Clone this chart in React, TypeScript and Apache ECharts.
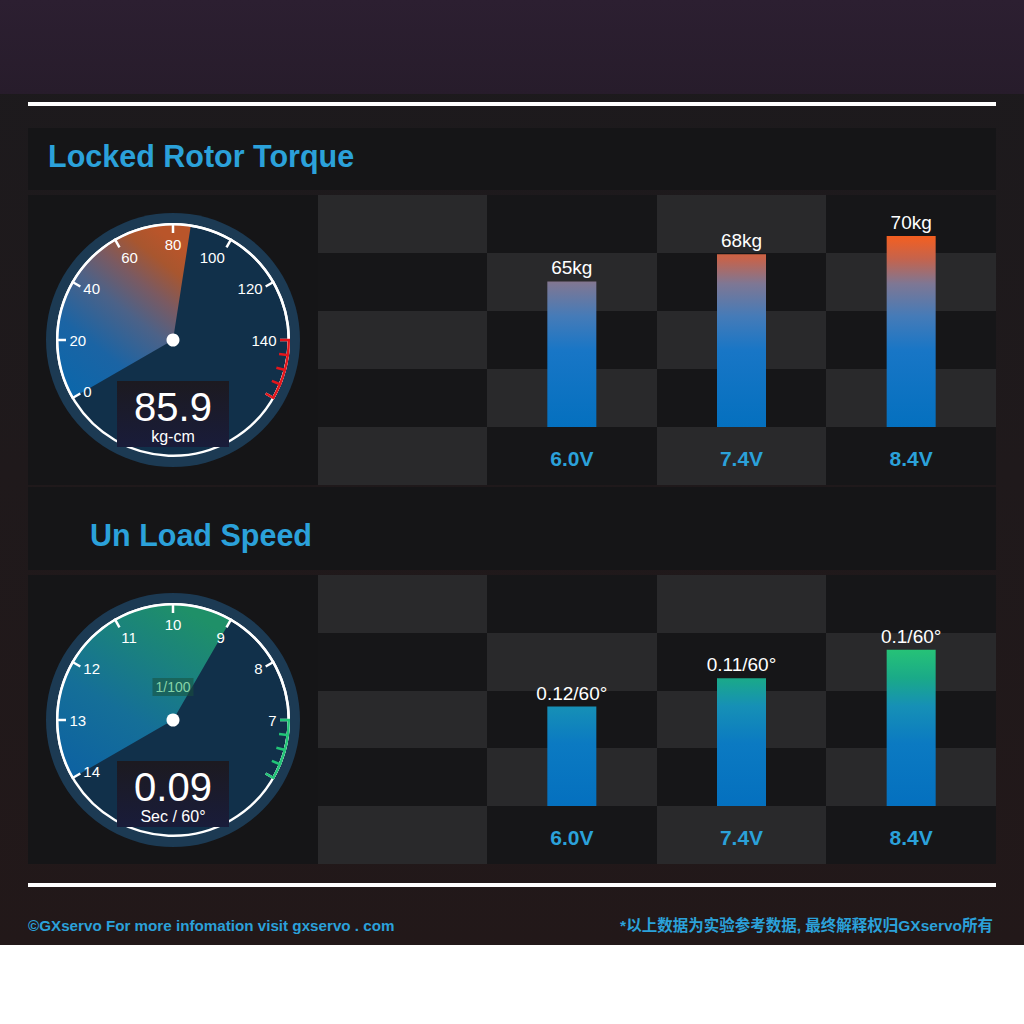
import React, { useEffect, useRef } from 'react';
import * as echarts from 'echarts';

const FONT = '"Liberation Sans", Arial, sans-serif';
const FONT_CJK = '"Liberation Sans", "Noto Sans CJK SC", sans-serif';

// ---------- data ----------
const voltages = ['6.0V', '7.4V', '8.4V'];
const torqueKg = [65, 68, 70];
const speedSecPer60 = [0.12, 0.11, 0.1];
const sectionTitles = ['Locked Rotor Torque', 'Un Load Speed'];

const torqueDialLabels = ['0', '20', '40', '60', '80', '100', '120', '140', ''];
const torqueDialRange = [0, 160];
const torqueDialZone = [140, 160];
const torqueReading = 85.9;
const torqueUnit = 'kg-cm';

const speedDialLabels = ['14', '13', '12', '11', '10', '9', '8', '7', ''];
const speedDialRange = [0.14, 0.06];
const speedDialZone = [0.07, 0.06];
const speedReading = 0.09;
const speedUnit = 'Sec / 60°';
const speedDialNote = '1/100';

const footerLeft = '©GXservo For more infomation visit gxservo . com';
const footerRight = '*以上数据为实验参考数据, 最终解释权归GXservo所有';

// ---------- layout / style ----------
const X0 = 28;
const X1 = 996;
const COLS = [318, 487, 657, 826, 996];
const SECTIONS = [
  { titleY: 128, titleH: 62, textX: 48, textY: 156, rows: [195, 253, 311, 369, 427, 485], cy: 340, plotTop: 196, plotBottom: 427 },
  { titleY: 487, titleH: 83, textX: 90, textY: 535, rows: [575, 633, 691, 748, 806, 864], cy: 720, plotTop: 576, plotBottom: 806 },
];
const BLUE = '#2ba1da';

function lg(x0: number, y0: number, x1: number, y1: number, stops: [number, string][], global = false) {
  return new echarts.graphic.LinearGradient(
    x0, y0, x1, y1,
    stops.map(([offset, color]) => ({ offset, color })),
    global
  );
}

function dialSeries(
  cy: number,
  range: number[],
  labels: string[],
  zone: number[],
  zoneColor: string,
  reading: number,
  unit: string,
  note: string | null,
  sectorStops: [number, string][]
) {
  const [min, max] = range;
  const n = labels.length - 1;
  const angleOf = (v: number) => 210 - ((v - min) / (max - min)) * 240;
  const center = [173, cy];
  const base = {
    type: 'gauge',
    center,
    startAngle: 210,
    endAngle: -30,
    min,
    max,
    splitNumber: n,
    pointer: { show: false },
    axisTick: { show: false },
  };
  return [
    {
      ...base,
      z: 2,
      radius: 115,
      progress: { show: true, overlap: true, width: 115, roundCap: false, itemStyle: { color: lg(0.1, 1, 0.7, 0, sectorStops) } },
      axisLine: { show: false },
      splitLine: { show: false },
      axisLabel: { show: false },
      anchor: { show: false },
      title: { show: true, offsetCenter: [0, 96], color: '#ffffff', fontSize: 16, fontFamily: FONT },
      detail: {
        show: true,
        offsetCenter: [0, 67],
        formatter: (v: number) => String(v),
        color: '#ffffff',
        fontSize: 40,
        fontWeight: 'normal',
        fontFamily: FONT,
      },
      data: [{ value: reading, name: unit }],
    },
    {
      ...base,
      z: 4,
      radius: 117,
      axisLine: { show: true, lineStyle: { width: 2.5, color: [[1, '#ffffff']] } },
      splitLine: { show: true, length: 10, distance: -2.5, lineStyle: { color: '#ffffff', width: 2.5 } },
      axisLabel: {
        show: true,
        distance: 6,
        color: '#ffffff',
        fontSize: 15,
        fontFamily: FONT,
        formatter: (v: number) => labels[Math.round(((v - min) / (max - min)) * n)] ?? '',
      },
      anchor: { show: true, showAbove: true, size: 13, itemStyle: { color: '#ffffff', borderWidth: 0 } },
      progress: { show: false },
      detail: { show: false },
      title: note
        ? {
            show: true,
            offsetCenter: [0, -33],
            color: '#86d3a8',
            fontSize: 14,
            fontFamily: FONT,
            backgroundColor: 'rgba(25,80,60,0.55)',
            padding: [2, 3],
          }
        : { show: false },
      data: [{ value: min, name: note || '' }],
    },
    {
      ...base,
      z: 5,
      radius: 117,
      startAngle: angleOf(zone[0]),
      endAngle: angleOf(zone[1]),
      min: zone[0],
      max: zone[1],
      splitNumber: 4,
      axisLine: { show: true, lineStyle: { width: 2.5, color: [[1, zoneColor]] } },
      splitLine: { show: true, length: 10, distance: -2.5, lineStyle: { color: zoneColor, width: 2.5 } },
      axisLabel: { show: false },
      anchor: { show: false },
      progress: { show: false },
      detail: { show: false },
      title: { show: false },
      data: [{ value: zone[0] }],
    },
  ];
}

function barSeries(
  idx: number,
  values: number[],
  baseValue: number,
  peakValue: number,
  stops: [number, string][],
  fmt: (v: number) => string
) {
  return {
    type: 'custom',
    xAxisIndex: idx,
    yAxisIndex: idx,
    z: 3,
    data: values.map((v, i) => [i, v]),
    encode: { x: 0, y: 1 },
    renderItem: (params: any, api: any) => {
      const i = api.value(0);
      const v = api.value(1);
      const top = api.coord([i, v]);
      const bottom = api.coord([i, baseValue]);
      const gTop = api.coord([i, peakValue])[1];
      const w = 49;
      return {
        type: 'group',
        children: [
          {
            type: 'rect',
            shape: { x: top[0] - w / 2, y: top[1], width: w, height: bottom[1] - top[1] },
            style: { fill: lg(0, gTop, 0, bottom[1], stops, true) },
          },
          {
            type: 'text',
            x: top[0],
            y: top[1] - 4,
            style: {
              text: fmt(v),
              fill: '#ffffff',
              fontSize: 19,
              fontFamily: FONT,
              align: 'center',
              verticalAlign: 'bottom',
            },
          },
        ],
      };
    },
  };
}

function buildGraphics() {
  const g: any[] = [];
  g.push({ type: 'rect', shape: { x: 0, y: 0, width: 1024, height: 945 }, style: { fill: lg(0, 0, 0, 1, [[0, '#1c1a1d'], [1, '#221819']]) } });
  g.push({ type: 'rect', shape: { x: 0, y: 0, width: 1024, height: 94 }, style: { fill: lg(0, 0, 0, 1, [[0, '#2c1f31'], [1, '#271c2b']]) } });
  g.push({ type: 'rect', shape: { x: X0, y: 102, width: X1 - X0, height: 4 }, style: { fill: '#ffffff' } });
  g.push({ type: 'rect', shape: { x: X0, y: 883, width: X1 - X0, height: 4 }, style: { fill: '#ffffff' } });

  SECTIONS.forEach((s, si) => {
    g.push({ type: 'rect', shape: { x: X0, y: s.titleY, width: X1 - X0, height: s.titleH }, style: { fill: '#151517' } });
    g.push({
      type: 'text',
      x: s.textX,
      y: s.textY,
      style: { text: sectionTitles[si], fill: BLUE, fontSize: 30.5, fontWeight: 'bold', fontFamily: FONT, align: 'left', verticalAlign: 'middle' },
    });
    const top = s.rows[0];
    const bottom = s.rows[s.rows.length - 1];
    g.push({ type: 'rect', shape: { x: X0, y: top, width: COLS[0] - X0, height: bottom - top }, style: { fill: '#151517' } });
    for (let r = 0; r < s.rows.length - 1; r++) {
      for (let c = 0; c < COLS.length - 1; c++) {
        g.push({
          type: 'rect',
          shape: { x: COLS[c], y: s.rows[r], width: COLS[c + 1] - COLS[c], height: s.rows[r + 1] - s.rows[r] },
          style: { fill: (r + c) % 2 === 0 ? '#29292b' : '#161618' },
        });
      }
    }
    // dial face
    g.push({ type: 'circle', shape: { cx: 173, cy: s.cy, r: 127 }, style: { fill: '#1c3a53' } });
    g.push({ type: 'circle', shape: { cx: 173, cy: s.cy, r: 116 }, style: { fill: '#11304a' } });
    g.push({ type: 'circle', shape: { cx: 173, cy: s.cy, r: 115.75 }, style: { fill: 'none', stroke: '#ffffff', lineWidth: 2.5 } });
    g.push({
      type: 'rect',
      shape: { x: 117, y: s.cy + 41, width: 112, height: 66 },
      style: { fill: lg(0, 0, 0, 1, [[0, '#1c1a20'], [1, '#191c3a']]) },
    });
  });

  g.push({
    type: 'text',
    x: X0,
    y: 925,
    style: { text: footerLeft, fill: BLUE, fontSize: 15.2, fontWeight: 'bold', fontFamily: FONT, align: 'left', verticalAlign: 'middle' },
  });
  g.push({
    type: 'text',
    x: 993,
    y: 925,
    style: { text: footerRight, fill: BLUE, fontSize: 15.5, fontWeight: 'bold', fontFamily: FONT_CJK, align: 'right', verticalAlign: 'middle' },
  });
  return g;
}

function buildOption() {
  return {
    animation: false,
    backgroundColor: '#ffffff',
    textStyle: { fontFamily: FONT },
    graphic: { elements: buildGraphics() },
    grid: SECTIONS.map((s) => ({ left: COLS[1], right: 1024 - X1, top: s.plotTop, bottom: 1024 - s.plotBottom })),
    xAxis: SECTIONS.map((_, i) => ({
      type: 'category',
      gridIndex: i,
      data: voltages,
      axisLine: { show: false },
      axisTick: { show: false },
      splitLine: { show: false },
      axisLabel: { color: BLUE, fontSize: 21, fontWeight: 'bold', fontFamily: FONT, margin: 31, verticalAlign: 'middle' },
    })),
    yAxis: [
      { type: 'value', gridIndex: 0, min: 49, max: 74.4, show: false, splitLine: { show: false } },
      { type: 'value', gridIndex: 1, inverse: true, min: 0.074, max: 0.155, show: false, splitLine: { show: false } },
    ],
    series: [
      ...dialSeries(SECTIONS[0].cy, torqueDialRange, torqueDialLabels, torqueDialZone, '#e3161c', torqueReading, torqueUnit, null, [
        [0, '#0b67ab'],
        [0.3, '#1b64a4'],
        [0.55, '#4c6288'],
        [0.72, '#7a5a62'],
        [0.88, '#a8562f'],
        [1, '#b9552a'],
      ]),
      ...dialSeries(SECTIONS[1].cy, speedDialRange, speedDialLabels, speedDialZone, '#22c477', speedReading, speedUnit, speedDialNote, [
        [0, '#0d62a2'],
        [0.4, '#156f98'],
        [0.7, '#1a8080'],
        [1, '#1f9068'],
      ]),
      barSeries(0, torqueKg, 49, Math.max(...torqueKg), [
        [0, '#f45f20'],
        [0.12, '#c5634c'],
        [0.25, '#7e7794'],
        [0.42, '#457bb8'],
        [0.6, '#1876c6'],
        [1, '#0470bf'],
      ], (v) => `${v}kg`),
      barSeries(1, speedSecPer60, 0.155, Math.min(...speedSecPer60), [
        [0, '#26c277'],
        [0.18, '#1aaa88'],
        [0.36, '#1690b6'],
        [0.6, '#0b7ac2'],
        [1, '#0470bf'],
      ], (v) => `${v}/60°`),
    ],
  };
}

export default function App() {
  const ref = useRef<HTMLDivElement>(null);
  useEffect(() => {
    if (!ref.current) return;
    const chart = echarts.init(ref.current, undefined, { renderer: 'svg' });
    chart.setOption(buildOption() as any);
    return () => chart.dispose();
  }, []);
  return (
    <div
      ref={ref}
      style={{ position: 'fixed', left: 0, top: 0, width: 1024, height: 1024 }}
    />
  );
}
